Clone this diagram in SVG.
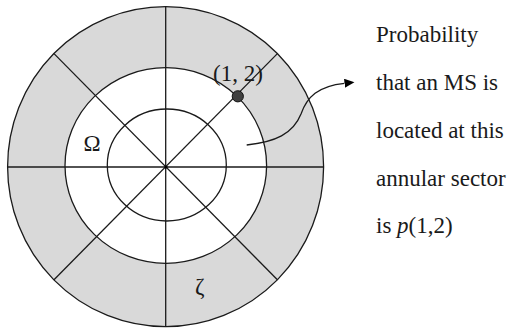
<svg xmlns="http://www.w3.org/2000/svg" width="509" height="331" viewBox="0 0 509 331">
<style>
.ln{stroke:#1a1a1a;stroke-width:1.3;fill:none}
.t{font-family:"Liberation Serif","Times New Roman",serif;font-size:23px;fill:#1a1a1a}
</style>
<defs>
<marker id="ah" markerUnits="userSpaceOnUse" markerWidth="11" markerHeight="10" refX="0" refY="4.5" orient="auto">
<path d="M0,0 L10,4.5 L0,9 z" fill="#000"/>
</marker>
</defs>
<rect width="509" height="331" fill="#fff"/>
<g id="disk">
<ellipse cx="165.6" cy="166.7" rx="158" ry="160" fill="#d9d9d9" class="ln" style="fill:#d9d9d9"/>
<ellipse cx="165.8" cy="165.5" rx="100.8" ry="97.8" fill="#fff" class="ln" style="fill:#fff"/>
<ellipse cx="166.8" cy="165" rx="59.5" ry="56" class="ln"/>
<line class="ln" x1="165.7" y1="6.7" x2="165.7" y2="326.7"/>
<line class="ln" x1="7.6" y1="167" x2="323.6" y2="167"/>
<line class="ln" x1="54" y1="53.6" x2="277.4" y2="279.8"/>
<line class="ln" x1="277.4" y1="53.6" x2="54" y2="279.8"/>
<circle cx="166" cy="167" r="1.6" fill="#000"/>
</g>
<g id="point">
<circle cx="237.8" cy="96.3" r="5.6" fill="#404040" stroke="#111" stroke-width="1"/>
<text class="t" x="213" y="81">(1, 2)</text>
</g>
<g id="labels">
<text class="t" x="83.5" y="151">Ω</text>
<text class="t" x="195" y="294">ζ</text>
</g>
<g id="connectors">
<path class="ln" d="M246.7,145 C275,142 293,134 301,114 C307,97 318,86 344.5,83.3" marker-end="url(#ah)"/>
</g>
<g id="caption">
<text class="t" x="376" y="42">Probability</text>
<text class="t" x="376" y="90">that an MS is</text>
<text class="t" x="376" y="138">located at this</text>
<text class="t" x="376" y="185.5">annular sector</text>
<text class="t" x="376" y="232.5">is <tspan font-style="italic">p</tspan>(1,2)</text>
</g>
</svg>
